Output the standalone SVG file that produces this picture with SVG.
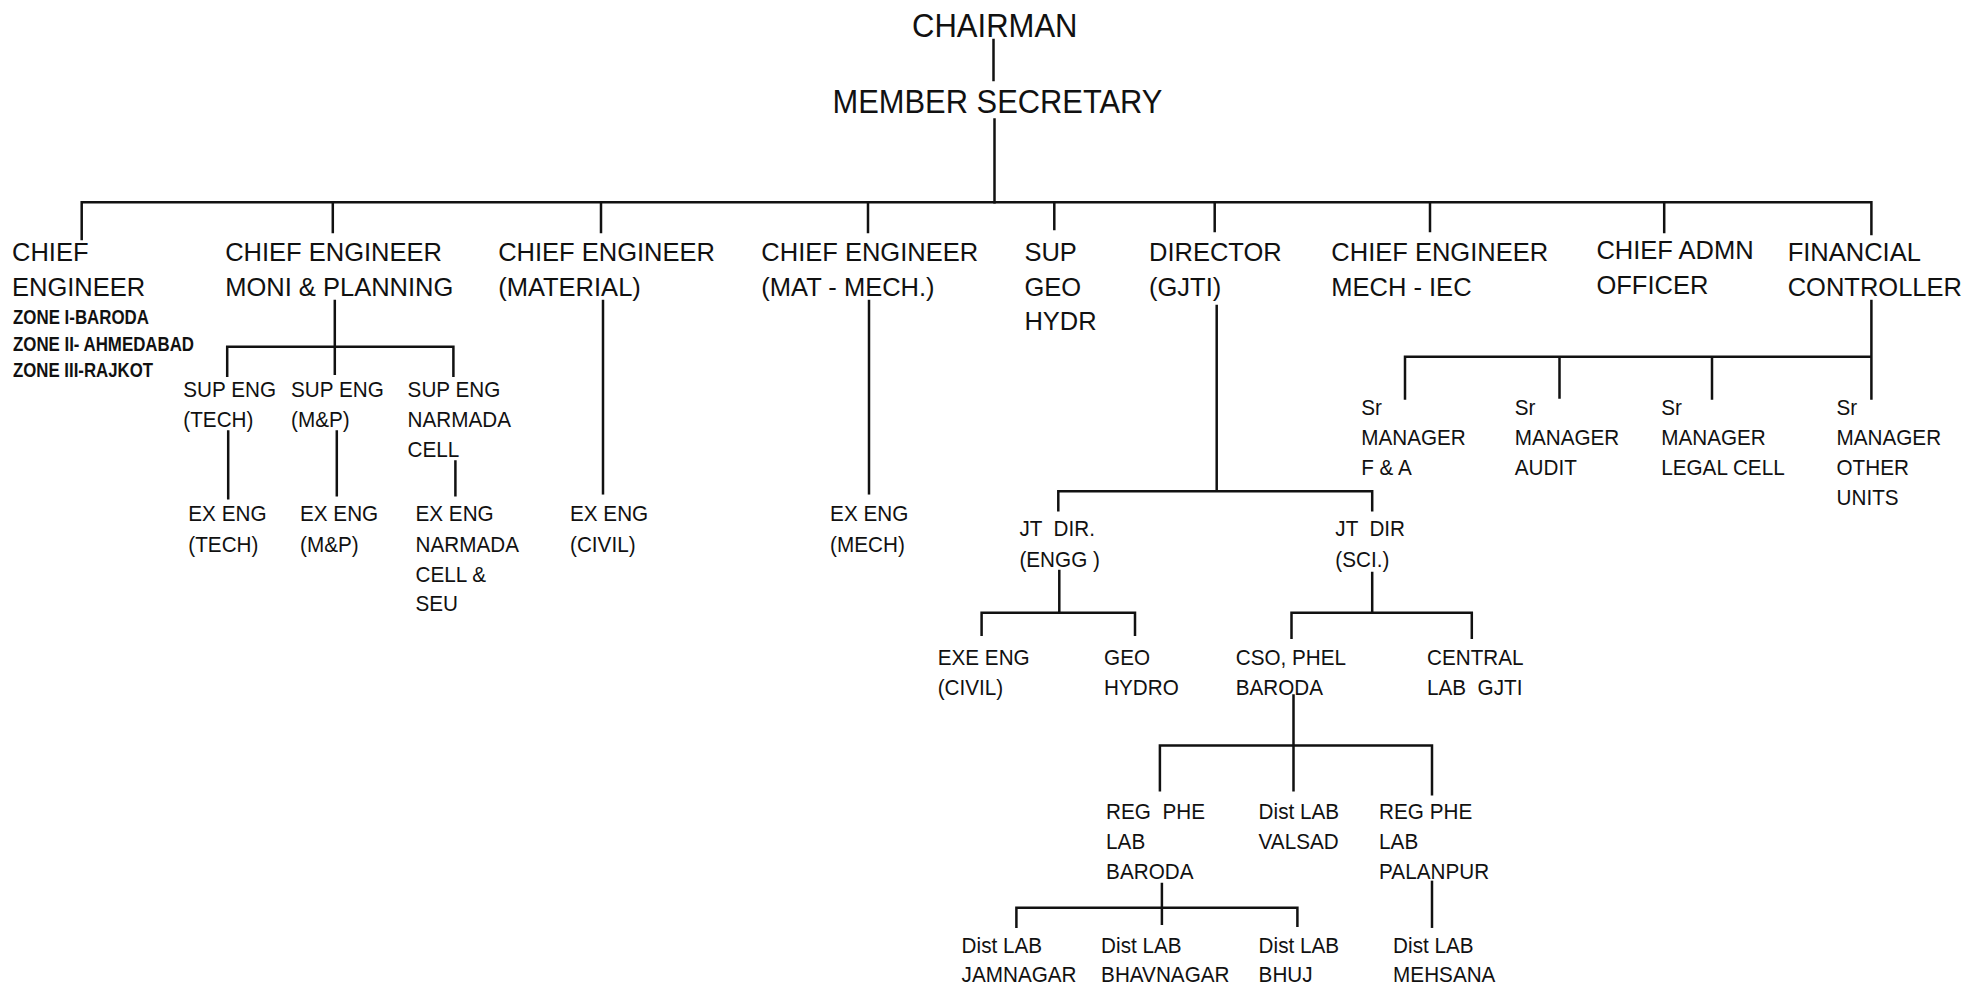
<svg xmlns="http://www.w3.org/2000/svg" width="1979" height="991" viewBox="0 0 1979 991">
<style>
text{font-family:"Liberation Sans",Arial,sans-serif;fill:#111}
.t1{font-size:32.5px}
.t2{font-size:25.5px}
.t3{font-size:22.5px}
.z{font-size:20px;font-weight:bold}
.c{fill:none;stroke:#111;stroke-width:2.5;stroke-linecap:square}
</style>
<rect width="1979" height="991" fill="#fff"/>
<g id="connectors" class="c">
<path d="M993.5,40V80"/>
<path d="M994.5,119.5V202.3"/>
<path d="M81.7,239V202.3H1871.4V234"/>
<path d="M332.8,202.3V232M601,202.3V232M868,202.3V232M1054.3,202.3V229M1214.7,202.3V231M1430,202.3V231M1664.2,202.3V232"/>
<path d="M334.8,301V373.7M227.2,375.7V346.8H453.4V375.7"/>
<path d="M228.2,431.5V498.3M336.8,431.5V495.3M455.4,461.4V495.3"/>
<path d="M603,301V493.3"/>
<path d="M869,301V493.3"/>
<path d="M1216.7,306V491.3M1058.3,510.2V491.3H1372.2V510.2"/>
<path d="M1059.3,571V612.8M981.6,634.8V612.8H1135V634.8"/>
<path d="M1372.2,573V612.8M1291.5,637.8V612.8H1471.8V637.8"/>
<path d="M1871.4,301V398.6M1405,398.6V356.7H1871.4M1559.5,356.7V397.6M1712,356.7V398.6"/>
<path d="M1293.5,695.6V790.2M1159.9,790.2V745.4H1432V794.2"/>
<path d="M1161.9,883.9V923.8M1016.4,926.7V907.8H1297.4V925.7"/>
<path d="M1432,881.9V926.7"/>
</g>
<g id="chairman" transform="matrix(0.955 0 0 1 912 0)"><text class="t1" y="36.9">CHAIRMAN</text></g>
<g id="member_secretary" transform="matrix(0.95 0 0 1 832.5 0)"><text class="t1" y="112.6">MEMBER SECRETARY</text></g>
<g id="ce_zone"><text class="t2" x="12" y="261.1">CHIEF</text><text class="t2" x="12" y="296">ENGINEER</text>
<text class="z" x="13" y="323.9" textLength="136" lengthAdjust="spacingAndGlyphs">ZONE I-BARODA</text>
<text class="z" x="13" y="350.8" textLength="181" lengthAdjust="spacingAndGlyphs">ZONE II- AHMEDABAD</text>
<text class="z" x="13" y="376.7" textLength="140" lengthAdjust="spacingAndGlyphs">ZONE III-RAJKOT</text></g>
<g id="ce_moni"><text class="t2" x="225.2" y="261.1">CHIEF ENGINEER</text><text class="t2" x="225.2" y="296">MONI &amp; PLANNING</text></g>
<g id="ce_material"><text class="t2" x="498.2" y="261.1">CHIEF ENGINEER</text><text class="t2" x="498.2" y="296">(MATERIAL)</text></g>
<g id="ce_matmech"><text class="t2" x="761.3" y="261.1">CHIEF ENGINEER</text><text class="t2" x="761.3" y="296">(MAT - MECH.)</text></g>
<g id="sup_geo"><text class="t2" x="1024.4" y="261.1">SUP</text><text class="t2" x="1024.4" y="296">GEO</text><text class="t2" x="1024.4" y="329.8">HYDR</text></g>
<g id="director"><text class="t2" x="1149" y="261.1">DIRECTOR</text><text class="t2" x="1149" y="296">(GJTI)</text></g>
<g id="ce_mech_iec"><text class="t2" x="1331.3" y="261.1">CHIEF ENGINEER</text><text class="t2" x="1331.3" y="296">MECH - IEC</text></g>
<g id="chief_admn"><text class="t2" x="1596.4" y="259.1">CHIEF ADMN</text><text class="t2" x="1596.4" y="294">OFFICER</text></g>
<g id="fin_controller"><text class="t2" x="1787.7" y="261.1">FINANCIAL</text><text class="t2" x="1787.7" y="296">CONTROLLER</text></g>
<g id="sup_tech" transform="matrix(0.92 0 0 1 183.3 0)"><text class="t3" y="396.6">SUP ENG</text><text class="t3" y="427.5">(TECH)</text></g>
<g id="sup_mp" transform="matrix(0.92 0 0 1 291 0)"><text class="t3" y="396.6">SUP ENG</text><text class="t3" y="427.5">(M&amp;P)</text></g>
<g id="sup_narmada" transform="matrix(0.92 0 0 1 407.6 0)"><text class="t3" y="396.6">SUP ENG</text><text class="t3" y="427.5">NARMADA</text><text class="t3" y="457.4">CELL</text></g>
<g id="ex_tech" transform="matrix(0.92 0 0 1 188.3 0)"><text class="t3" y="521.2">EX ENG</text><text class="t3" y="552">(TECH)</text></g>
<g id="ex_mp" transform="matrix(0.92 0 0 1 300 0)"><text class="t3" y="521.2">EX ENG</text><text class="t3" y="552">(M&amp;P)</text></g>
<g id="ex_narmada" transform="matrix(0.92 0 0 1 415.5 0)"><text class="t3" y="521.2">EX ENG</text><text class="t3" y="552">NARMADA</text><text class="t3" y="582">CELL &amp;</text><text class="t3" y="610.9">SEU</text></g>
<g id="ex_civil" transform="matrix(0.92 0 0 1 570 0)"><text class="t3" y="521.2">EX ENG</text><text class="t3" y="552">(CIVIL)</text></g>
<g id="ex_mech" transform="matrix(0.92 0 0 1 830.1 0)"><text class="t3" y="521.2">EX ENG</text><text class="t3" y="552">(MECH)</text></g>
<g id="jt_engg" transform="matrix(0.92 0 0 1 1019.4 0)"><text class="t3" y="536.1" xml:space="preserve">JT  DIR.</text><text class="t3" y="567">(ENGG )</text></g>
<g id="jt_sci" transform="matrix(0.92 0 0 1 1335.3 0)"><text class="t3" y="536.1" xml:space="preserve">JT  DIR</text><text class="t3" y="567">(SCI.)</text></g>
<g id="exe_civil" transform="matrix(0.92 0 0 1 937.7 0)"><text class="t3" y="664.7">EXE ENG</text><text class="t3" y="694.6">(CIVIL)</text></g>
<g id="geo_hydro" transform="matrix(0.92 0 0 1 1104.1 0)"><text class="t3" y="664.7">GEO</text><text class="t3" y="694.6">HYDRO</text></g>
<g id="cso_phel" transform="matrix(0.92 0 0 1 1235.7 0)"><text class="t3" y="664.7">CSO, PHEL</text><text class="t3" y="694.6">BARODA</text></g>
<g id="central_lab" transform="matrix(0.92 0 0 1 1427 0)"><text class="t3" y="664.7">CENTRAL</text><text class="t3" y="694.6" xml:space="preserve">LAB  GJTI</text></g>
<g id="sr_fa" transform="matrix(0.92 0 0 1 1361.2 0)"><text class="t3" y="415.5">Sr</text><text class="t3" y="445.4">MANAGER</text><text class="t3" y="475.3">F &amp; A</text></g>
<g id="sr_audit" transform="matrix(0.92 0 0 1 1514.7 0)"><text class="t3" y="415.5">Sr</text><text class="t3" y="445.4">MANAGER</text><text class="t3" y="475.3">AUDIT</text></g>
<g id="sr_legal" transform="matrix(0.92 0 0 1 1661.2 0)"><text class="t3" y="415.5">Sr</text><text class="t3" y="445.4">MANAGER</text><text class="t3" y="475.3">LEGAL CELL</text></g>
<g id="sr_other" transform="matrix(0.92 0 0 1 1836.5 0)"><text class="t3" y="415.5">Sr</text><text class="t3" y="445.4">MANAGER</text><text class="t3" y="475.3">OTHER</text><text class="t3" y="505.2">UNITS</text></g>
<g id="reg_baroda" transform="matrix(0.92 0 0 1 1106.1 0)"><text class="t3" y="819.1" xml:space="preserve">REG  PHE</text><text class="t3" y="849">LAB</text><text class="t3" y="878.9">BARODA</text></g>
<g id="dist_valsad" transform="matrix(0.92 0 0 1 1258.6 0)"><text class="t3" y="819.1">Dist LAB</text><text class="t3" y="849">VALSAD</text></g>
<g id="reg_palanpur" transform="matrix(0.92 0 0 1 1379.1 0)"><text class="t3" y="819.1">REG PHE</text><text class="t3" y="849">LAB</text><text class="t3" y="878.9">PALANPUR</text></g>
<g id="dist_jamnagar" transform="matrix(0.92 0 0 1 961.6 0)"><text class="t3" y="952.7">Dist LAB</text><text class="t3" y="982.5">JAMNAGAR</text></g>
<g id="dist_bhavnagar" transform="matrix(0.92 0 0 1 1101.1 0)"><text class="t3" y="952.7">Dist LAB</text><text class="t3" y="982.5">BHAVNAGAR</text></g>
<g id="dist_bhuj" transform="matrix(0.92 0 0 1 1258.6 0)"><text class="t3" y="952.7">Dist LAB</text><text class="t3" y="982.5">BHUJ</text></g>
<g id="dist_mehsana" transform="matrix(0.92 0 0 1 1393.1 0)"><text class="t3" y="952.7">Dist LAB</text><text class="t3" y="982.5">MEHSANA</text></g>
</svg>
